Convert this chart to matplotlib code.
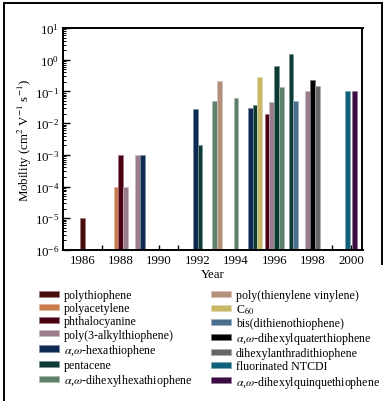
import matplotlib
matplotlib.use("Agg")
import matplotlib.pyplot as plt
from matplotlib.lines import Line2D
from matplotlib.patches import Patch
import matplotlib.colors as mcolors
import numpy as np

plt.rcParams['font.family'] = ['Liberation Serif', 'DejaVu Serif']
plt.rcParams['mathtext.fontset'] = 'stix'

# ---- data ----
series_names = [
    "polythiophene", "polyacetylene", "phthalocyanine", "poly(3-alkylthiophene)",
    r"$\alpha$,$\omega$-hexathiophene", "pentacene", r"$\alpha$,$\omega$-dihexylhexathiophene",
    "poly(thienylene vinylene)", r"C$_{60}$", "bis(dithienothiophene)",
    r"$\alpha$,$\omega$-dihexylquaterthiophene", "dihexylanthradithiophene",
    "fluorinated NTCDI", r"$\alpha$,$\omega$-dihexylquinquethiophene",
]
series_colors = [
    "#4a0d0d", "#c97b4b", "#4a0012", "#9b7e8d", "#0e2a52", "#0c3b36", "#5f8069",
    "#b48f7c", "#c6b865", "#4b6f8f", "#000000", "#676767", "#0f6079", "#3b0a42",
]
# (series index, year, offset within year group, mobility)
bar_series = [0, 1, 2, 3, 3, 4, 4, 5, 6, 7, 6, 4, 5, 8, 2, 3, 5, 6, 5, 9, 3, 10, 11, 12, 13]
bar_years = [1986, 1988, 1988, 1988, 1989, 1989, 1992, 1992, 1993, 1993, 1994,
             1995, 1995, 1995, 1996, 1996, 1996, 1996, 1997, 1997, 1998, 1998, 1998, 2000, 2000]
bar_offsets = [0, -0.25, 0, 0.25, -0.125, 0.125, -0.125, 0.125, -0.125, 0.125, 0,
               -0.25, 0, 0.25, -0.375, -0.125, 0.125, 0.375, -0.125, 0.125, -0.25, 0, 0.25, -0.2, 0.2]
bar_values = [1e-5, 1e-4, 1e-3, 1e-4, 1e-3, 1e-3, 2.8e-2, 2.0e-3, 5.0e-2, 0.22, 6.1e-2,
              3.1e-2, 3.8e-2, 0.28, 2.0e-2, 4.5e-2, 0.63, 0.135, 1.55, 5.0e-2, 0.1, 0.23, 0.15, 0.1, 0.1]
year_labels = [1986, 1988, 1990, 1992, 1994, 1996, 1998, 2000]

FS = 9.3
LFS = 8.6
W, H = 385, 402
fig = plt.figure(figsize=(W / 100, H / 100), dpi=100)
ax = fig.add_axes([63.3 / W, 1 - 251 / H, (362.5 - 63.3) / W, (251 - 29) / H])

def lighter(c, f=0.45):
    r, g, b = mcolors.to_rgb(c)
    return (r + (1 - r) * f, g + (1 - g) * f, b + (1 - b) * f)

xs = [y + o for y, o in zip(bar_years, bar_offsets)]
for x, v, s in zip(xs, bar_values, bar_series):
    ax.bar(x, v - 1e-7, width=0.25, bottom=1e-7, color=series_colors[s],
           edgecolor=lighter(series_colors[s]), linewidth=0.5, zorder=2)

ax.set_yscale('log')
ax.set_ylim(1e-6, 10)
ax.set_xlim(1985, 2000.6)
ax.set_xticks(year_labels)
ax.set_xticklabels([str(y) for y in year_labels])
ax.set_xticks(np.arange(1987, 2000, 2), minor=True)
ax.tick_params(axis='x', which='both', direction='in', length=3.5, width=1.0,
               labelsize=FS, pad=3)
ax.tick_params(axis='y', which='major', direction='in', length=5, width=1.0,
               labelsize=FS, pad=3)
ax.tick_params(axis='y', which='minor', direction='in', length=2.5, width=0.7)
ax.yaxis.set_minor_locator(matplotlib.ticker.LogLocator(base=10, subs=np.arange(2, 10)))
for sp in ax.spines.values():
    sp.set_linewidth(1.4)

ax.set_xlabel("Year", fontsize=FS, labelpad=1.5)
ax.set_ylabel(r"Mobility (cm$^2$ V$^{-1}$ s$^{-1}$)", fontsize=FS)
ax.yaxis.set_label_coords(-0.098, 0.5)

handles = [Patch(facecolor=c, edgecolor=lighter(c), linewidth=0.5) for c in series_colors]
leg = fig.legend(handles, series_names, loc='upper left',
                 bbox_to_anchor=(39 / W, 1 - 290 / H), ncol=2, frameon=False,
                 fontsize=LFS, handlelength=1.65, handleheight=0.42, handletextpad=0.42,
                 labelspacing=0.1, columnspacing=1.62, borderpad=0, borderaxespad=0)

# figure border (left, top, right)
fig.add_artist(Line2D([3.5 / W, 3.5 / W], [0, 1 - 4 / H], transform=fig.transFigure,
                      color='black', linewidth=1.4))
fig.add_artist(Line2D([3.5 / W, 381.5 / W], [1 - 4 / H, 1 - 4 / H], transform=fig.transFigure,
                      color='black', linewidth=1.4))
fig.add_artist(Line2D([381.5 / W, 381.5 / W], [1 - 265 / H, 1 - 4 / H], transform=fig.transFigure,
                      color='black', linewidth=1.4))

fig.savefig("out.png", dpi=100)
